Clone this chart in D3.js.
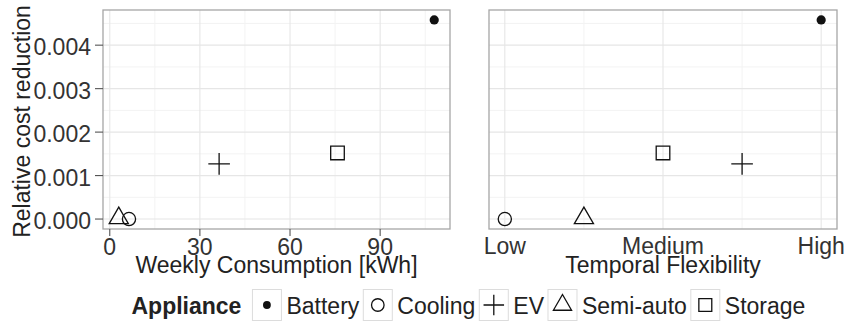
<!DOCTYPE html>
<html>
<head>
<meta charset="utf-8">
<script src="https://cdn.jsdelivr.net/npm/d3@7"></script>
<style>
  body { margin: 0; background: #fff; }
  svg { display: block; font-family: "Liberation Sans", Arial, Helvetica, sans-serif; }
</style>
</head>
<body>
<div id="chart"></div>
<script>
// data
const appliances = ["Battery", "Cooling", "EV", "Semi-auto", "Storage"];
const weeklyConsumption = [108, 6.4, 36.4, 3.0, 75.8];
const flexibility = [1, 0, 0.75, 0.25, 0.5];
const costReduction = [0.00458, 0.0, 0.00127, 0.00002, 0.00152];

const yTicks = [0, 0.001, 0.002, 0.003, 0.004];
const yMinor = [0.0005, 0.0015, 0.0025, 0.0035, 0.0045];
const consumptionTicks = [0, 30, 60, 90];
const consumptionMinor = [15, 45, 75, 105];
const flexTicks = [0, 0.5, 1];
const flexTickLabels = ["Low", "Medium", "High"];
const flexMinor = [0.25, 0.75];

const width = 847, height = 322;
const panelTop = 10, panelBottom = 229;
const fs = 23;
const panels = [
    { x0: 103, x1: 450, key: "consumption" },
    { x0: 489, x1: 837, key: "flex" }
];

const rows = appliances.map((a, i) => ({
    name: a,
    consumption: weeklyConsumption[i],
    flex: flexibility[i],
    value: costReduction[i]
}));

// ggplot style 5% expansion
const expand = (ext) => {
    const pad = (ext[1] - ext[0]) * 0.05;
    return [ext[0] - pad, ext[1] + pad];
};

const y = d3.scaleLinear()
    .domain(expand(d3.extent(costReduction)))
    .range([panelBottom, panelTop]);

const xC = d3.scaleLinear()
    .domain(expand(d3.extent(weeklyConsumption)))
    .range([panels[0].x0, panels[0].x1]);

const xF = d3.scaleLinear()
    .domain(expand(d3.extent(flexibility)))
    .range([panels[1].x0, panels[1].x1]);

const svg = d3.select("#chart").append("svg")
    .attr("width", width)
    .attr("height", height);

const shapePath = (name, s) => {
    const p = d3.path();
    if (name === "Cooling") {
        p.arc(0, 0, 6.6 * s, 0, 2 * Math.PI);
    } else if (name === "EV") {
        const a = 10.8 * s;
        p.moveTo(-a, 0); p.lineTo(a, 0);
        p.moveTo(0, -a); p.lineTo(0, a);
    } else if (name === "Semi-auto") {
        const r = 7.1 * s;
        p.moveTo(0, -1.555 * r);
        p.lineTo(1.347 * r, 0.778 * r);
        p.lineTo(-1.347 * r, 0.778 * r);
        p.closePath();
    } else if (name === "Storage") {
        const h = 6.8 * s;
        p.rect(-h, -h, 2 * h, 2 * h);
    }
    return p.toString();
};

const drawShape = (g, name, s) => {
    if (name === "Battery") {
        g.append("circle").attr("r", 4.6 * s).attr("fill", "#111");
    } else {
        g.append("path")
            .attr("d", shapePath(name, s))
            .attr("fill", "none")
            .attr("stroke", "#111")
            .attr("stroke-width", 1.3);
    }
};

panels.forEach((panel, pi) => {
    const x = pi === 0 ? xC : xF;
    const g = svg.append("g");

    // minor grid
    g.selectAll(".ym").data(yMinor).join("line")
        .attr("x1", panel.x0).attr("x2", panel.x1)
        .attr("y1", d => y(d)).attr("y2", d => y(d))
        .attr("stroke", "#f3f3f3").attr("stroke-width", 1);
    g.selectAll(".xm").data(pi === 0 ? consumptionMinor : flexMinor).join("line")
        .attr("x1", d => x(d)).attr("x2", d => x(d))
        .attr("y1", panelTop).attr("y2", panelBottom)
        .attr("stroke", "#f3f3f3").attr("stroke-width", 1);
    // major grid
    g.selectAll(".yg").data(yTicks).join("line")
        .attr("x1", panel.x0).attr("x2", panel.x1)
        .attr("y1", d => y(d)).attr("y2", d => y(d))
        .attr("stroke", "#e6e6e6").attr("stroke-width", 1.1);
    g.selectAll(".xg").data(pi === 0 ? consumptionTicks : flexTicks).join("line")
        .attr("x1", d => x(d)).attr("x2", d => x(d))
        .attr("y1", panelTop).attr("y2", panelBottom)
        .attr("stroke", "#e6e6e6").attr("stroke-width", 1.1);

    // points
    rows.forEach(r => {
        const pg = g.append("g")
            .attr("transform", `translate(${x(r[panel.key])},${y(r.value)})`);
        drawShape(pg, r.name, 1);
    });

    // border
    g.append("rect")
        .attr("x", panel.x0).attr("y", panelTop)
        .attr("width", panel.x1 - panel.x0).attr("height", panelBottom - panelTop)
        .attr("fill", "none").attr("stroke", "#a6a6a6").attr("stroke-width", 1.3);
});

// left y axis
const yAxis = svg.append("g");
yAxis.selectAll("line").data(yTicks).join("line")
    .attr("x1", panels[0].x0 - 8).attr("x2", panels[0].x0)
    .attr("y1", d => y(d)).attr("y2", d => y(d))
    .attr("stroke", "#555").attr("stroke-width", 1.1);
yAxis.selectAll("text").data(yTicks).join("text")
    .attr("x", 91).attr("y", d => y(d) + 10)
    .attr("text-anchor", "end")
    .attr("font-size", fs).attr("fill", "#333")
    .text(d3.format(".3f"));

// left x axis
const xAxisL = svg.append("g");
xAxisL.selectAll("line").data(consumptionTicks).join("line")
    .attr("x1", d => xC(d)).attr("x2", d => xC(d))
    .attr("y1", panelBottom).attr("y2", panelBottom + 7)
    .attr("stroke", "#555").attr("stroke-width", 1.1);
xAxisL.selectAll("text").data(consumptionTicks).join("text")
    .attr("x", d => xC(d)).attr("y", 255)
    .attr("text-anchor", "middle")
    .attr("font-size", fs).attr("fill", "#333")
    .text(d => d);

// right x axis, labels only
svg.append("g").selectAll("text").data(flexTicks).join("text")
    .attr("x", d => xF(d)).attr("y", 253.5)
    .attr("text-anchor", "middle")
    .attr("font-size", fs).attr("fill", "#333")
    .text((d, i) => flexTickLabels[i]);

// axis titles
svg.append("text")
    .attr("x", (panels[0].x0 + panels[0].x1) / 2).attr("y", 272.5)
    .attr("text-anchor", "middle").attr("font-size", fs).attr("fill", "#222")
    .text("Weekly Consumption [kWh]");
svg.append("text")
    .attr("x", (panels[1].x0 + panels[1].x1) / 2).attr("y", 273)
    .attr("text-anchor", "middle").attr("font-size", fs).attr("fill", "#222")
    .text("Temporal Flexibility");
svg.append("text")
    .attr("transform", `translate(30,${(panelTop + panelBottom) / 2 + 2}) rotate(-90)`)
    .attr("text-anchor", "middle").attr("font-size", fs).attr("fill", "#222")
    .text("Relative cost reduction");

// legend
const legend = svg.append("g");
const legTitle = legend.append("text")
    .attr("x", 131.5).attr("y", 313.5)
    .attr("font-size", fs).attr("font-weight", "bold").attr("fill", "#222")
    .text("Appliance");
let lx = 131.5 + legTitle.node().getComputedTextLength() + 11;
const keyW = 29, keyH = 31, keyY = 289.5;
appliances.forEach(name => {
    legend.append("rect")
        .attr("x", lx).attr("y", keyY)
        .attr("width", keyW).attr("height", keyH)
        .attr("fill", "#fff").attr("stroke", "#dcdcdc").attr("stroke-width", 1);
    const kg = legend.append("g")
        .attr("transform", `translate(${lx + keyW / 2},${keyY + keyH / 2})`);
    drawShape(kg, name, name === "Battery" ? 0.85 : 0.95);
    const t = legend.append("text")
        .attr("x", lx + keyW + 5).attr("y", 313.5)
        .attr("font-size", fs).attr("fill", "#222")
        .text(name);
    lx += keyW + 5 + t.node().getComputedTextLength() + 4;
});
</script>
</body>
</html>
